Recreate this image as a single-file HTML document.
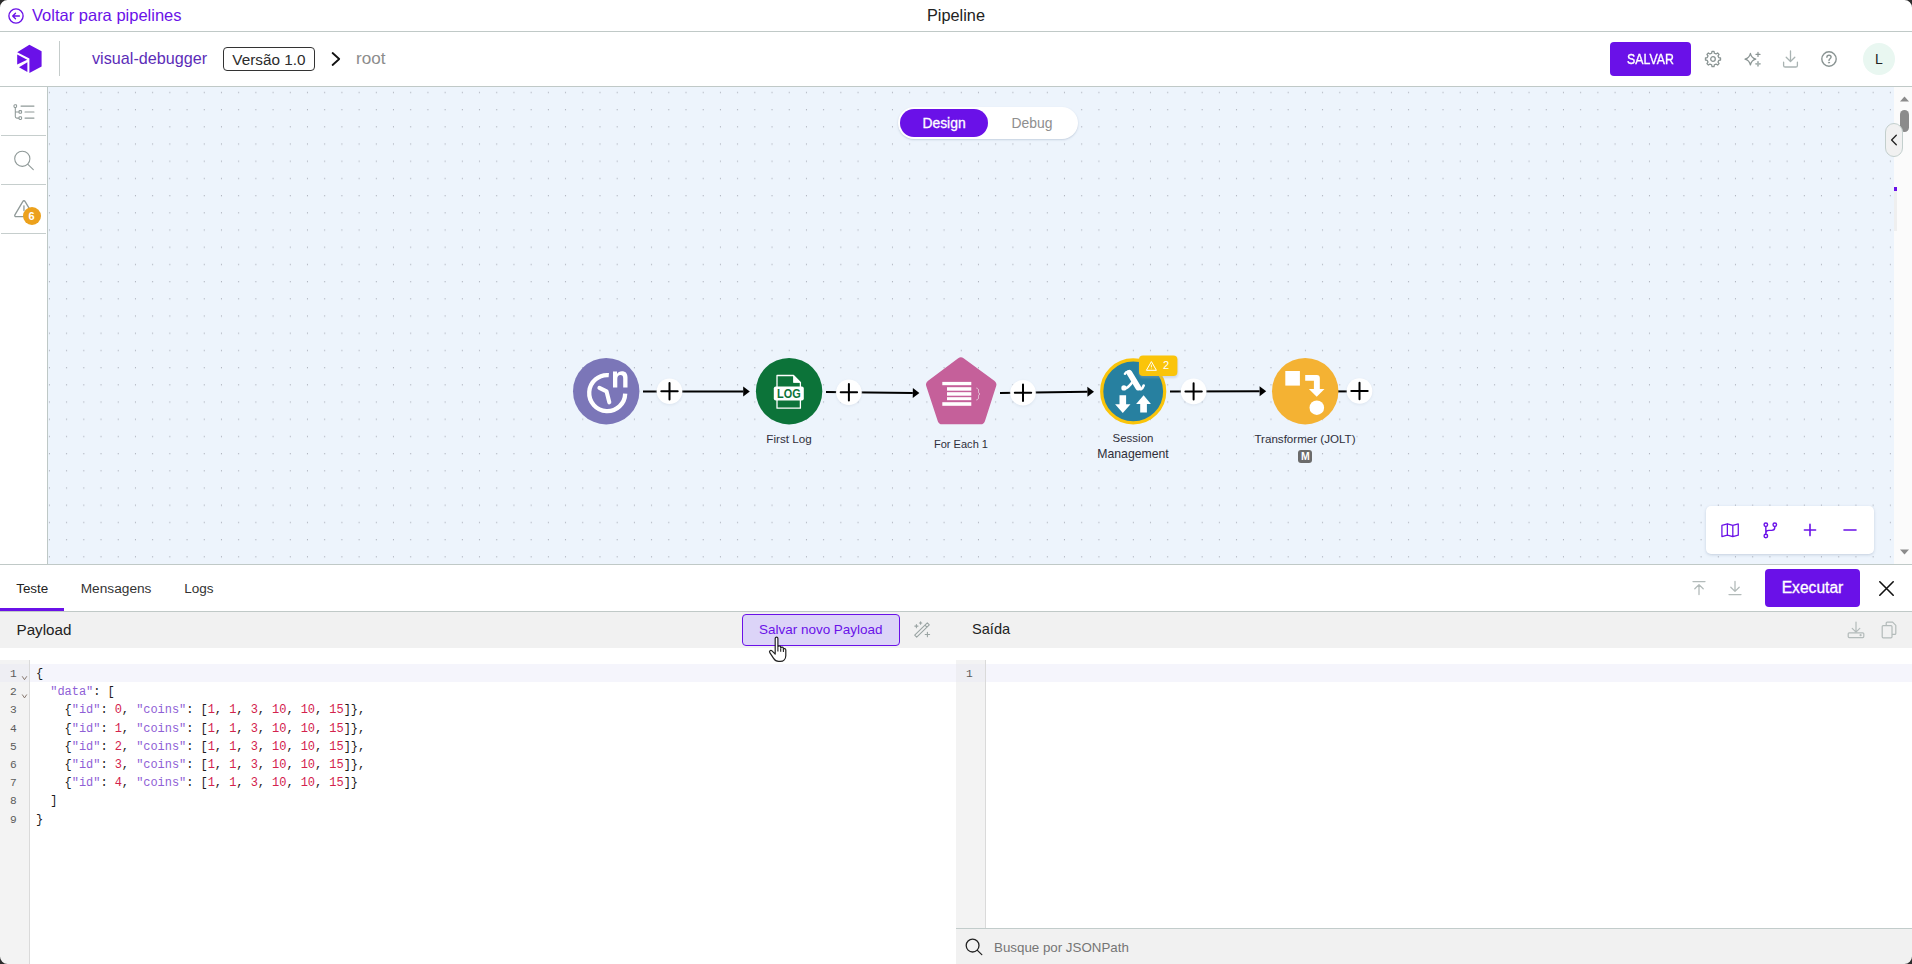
<!DOCTYPE html>
<html lang="pt-BR">
<head>
<meta charset="utf-8">
<title>Pipeline</title>
<style>
*{box-sizing:border-box;margin:0;padding:0}
html,body{width:1912px;height:964px;overflow:hidden;background:#fff}
body{font-family:"Liberation Sans",sans-serif;color:#2b2b2b;position:relative}
.abs{position:absolute}
.t{position:absolute;white-space:nowrap;line-height:1}
svg{position:absolute;overflow:visible}
/* top bar */
#bar1{left:0;top:0;width:1912px;height:32px;background:#fff;border-bottom:1px solid #c0c9c7}
#bar2{left:0;top:32px;width:1912px;height:55px;background:#fff;border-bottom:1px solid #c0c9c7}
/* sidebar */
#side{left:0;top:87px;width:48px;height:477px;background:#fff;border-right:1px solid #bec8c6}
.sdiv{left:1px;width:45px;height:1px;background:#c6cecd}
/* canvas */
#canvas{left:48px;top:87px;width:1846px;height:477px;background-color:#edf4fc;overflow:hidden}
#strip{left:1894px;top:190px;width:3px;height:41px;background:#efefef}
#sb{left:1894px;top:87px;width:18px;height:477px;background:#fbfbfb}
/* bottom */
#tabs{left:0;top:564px;width:1912px;height:48px;background:#fff;border-top:1px solid #c0c9c7;border-bottom:1px solid #c0c9c7}
#phead{left:0;top:612px;width:1912px;height:36px;background:#f1f1f1}
.gut{background:#f3f3f3;border-right:1px solid #dadada}
.code{font-family:"Liberation Mono",monospace;font-size:12px;letter-spacing:-0.05px;line-height:18.2px;white-space:pre;color:#1c1c1c}
.lbl{font-size:12px;color:#2f2f3a;text-align:center}
.k{color:#8f5fd6}.n{color:#d3224d}
.ln{font-family:"Liberation Mono",monospace;font-size:11.200px;line-height:18.2px;color:#5c5c5c;text-align:right}
</style>
</head>
<body>
<!-- TOP BAR 1 -->
<div id="bar1" class="abs"></div>
<div id="bar2" class="abs"></div>
<div class="t" style="left:32px;top:6.500px;font-size:16.500px;color:#6a11e8">Voltar para pipelines</div>
<div class="t" style="left:927px;top:6.800px;font-size:16.300px;color:#222">Pipeline</div>


<!-- back arrow -->
<svg style="left:8px;top:8px" width="16" height="16" viewBox="0 0 16 16" fill="none" stroke="#6a11e8" stroke-width="1.350" stroke-linecap="round" stroke-linejoin="round"><circle cx="8" cy="8" r="7.100"/><path d="M11.4 8H4.8M7.5 5.2L4.7 8l2.8 2.8"/></svg>
<!-- logo -->
<svg style="left:16px;top:44px" width="27" height="30" viewBox="0 0 27 30"><path d="M13.4 0.8 L25.6 7.2 L25.6 22.4 L13.4 29 L13.4 14.6 L1.2 8.2 Z" fill="#6a11e8"/><path d="M1.2 10.6 L11.2 15.8 L1.2 20.6 Z" fill="#6a11e8"/><path d="M11.4 18.2 L11.4 28 L3 23.2 Z" fill="#6a11e8"/></svg>
<!-- chevron -->
<svg style="left:329px;top:50px" width="14" height="18" viewBox="0 0 14 18" fill="none" stroke="#111" stroke-width="1.800" stroke-linecap="round" stroke-linejoin="round"><path d="M3.600 3L10.200 9L3.600 15"/></svg>
<!-- gear -->
<svg style="left:1705px;top:51px" width="16" height="16" viewBox="0 0 16 16" fill="none" stroke="#8a9493" stroke-width="1.3" stroke-linejoin="round"><path d="M6.62 2.26 L6.99 0.47 L9.01 0.47 L9.38 2.26 L11.08 2.97 L12.61 1.96 L14.04 3.39 L13.03 4.92 L13.74 6.62 L15.53 6.99 L15.53 9.01 L13.74 9.38 L13.03 11.08 L14.04 12.61 L12.61 14.04 L11.08 13.03 L9.38 13.74 L9.01 15.53 L6.99 15.53 L6.62 13.74 L4.92 13.03 L3.39 14.04 L1.96 12.61 L2.97 11.08 L2.26 9.38 L0.47 9.01 L0.47 6.99 L2.26 6.62 L2.97 4.92 L1.96 3.39 L3.39 1.96 L4.92 2.97Z"/><circle cx="8" cy="8" r="2.3"/></svg>
<!-- sparkle -->
<svg style="left:1744px;top:51px" width="18" height="16" viewBox="0 0 18 16" fill="none" stroke="#8a9493" stroke-width="1.2" stroke-linejoin="round" stroke-linecap="round"><path d="M6.4 2.4 C7.1 5.6 8.4 7.3 11.8 8.2 C8.4 9.1 7.1 10.8 6.4 14 C5.7 10.8 4.4 9.1 1 8.2 C4.4 7.3 5.7 5.6 6.4 2.4Z"/><path d="M14 1.4v4M12 3.4h4" stroke="#8a9493"/><path d="M14 10.8v4M12 12.8h4" stroke="#aab4b3" stroke-width="1.8"/></svg>
<!-- download -->
<svg style="left:1782px;top:50px" width="17" height="18" viewBox="0 0 17 18" fill="none" stroke="#a9b3b2" stroke-width="1.3" stroke-linecap="round" stroke-linejoin="round"><path d="M8.5 1v10.2M4.2 7.2l4.3 4.3 4.3-4.3"/><path d="M1.6 12.2v3.2c0 .9.7 1.6 1.6 1.6h10.6c.9 0 1.6-.7 1.6-1.6v-3.2"/></svg>
<!-- help -->
<svg style="left:1821px;top:51px" width="16" height="16" viewBox="0 0 16 16" fill="none" stroke="#8a9493" stroke-width="1.4" stroke-linecap="round" stroke-linejoin="round"><circle cx="8" cy="8" r="7.2"/><path d="M5.9 6.2c0-1.2.9-2 2.1-2s2.1.8 2.1 1.9c0 1.6-2.1 1.7-2.1 3.3"/><circle cx="8" cy="11.6" r=".6" fill="#8a9493" stroke-width=".8"/></svg>

<!-- TOP BAR 2 -->
<div class="abs" style="left:59px;top:41px;width:1px;height:35px;background:#c5cccb"></div>
<div class="t" style="left:92px;top:50.100px;font-size:16.200px;color:#5c2db8">visual-debugger</div>
<div class="abs" style="left:223px;top:47px;width:92px;height:24px;border:1px solid #333;border-radius:4px"></div>
<div class="t" style="left:232.300px;top:52.200px;font-size:15.300px;color:#2b2b2b">Versão 1.0</div>
<div class="t" style="left:356px;top:49.900px;font-size:17.100px;color:#8c8c8c">root</div>
<div class="abs" style="left:1610px;top:42px;width:81px;height:34px;background:#6a11e8;border-radius:4px"></div>
<div class="t" id="salvar" style="left:1627.300px;top:51.300px;font-size:15px;-webkit-text-stroke:.35px #fff;color:#fff;transform:scaleX(.822);transform-origin:0 0">SALVAR</div>
<div class="abs" style="left:1863px;top:43px;width:32px;height:32px;border-radius:50%;background:#e9f7f1"></div>
<div class="t" style="left:1875px;top:52px;font-size:14px;color:#222">L</div>

<!-- SIDEBAR -->
<div id="side" class="abs"></div>
<div class="abs sdiv" style="top:135px"></div>
<div class="abs sdiv" style="top:184px"></div>
<div class="abs sdiv" style="top:233px"></div>


<!-- sidebar icons -->
<svg style="left:13px;top:104px" width="22" height="18" viewBox="0 0 22 18" fill="none" stroke="#8f9998" stroke-width="1.050" stroke-linecap="round"><rect x="1" y="0.8" width="2.6" height="2.6" rx=".8"/><rect x="6" y="6.6" width="2.6" height="2.6" rx=".8"/><rect x="6" y="12.8" width="2.6" height="2.6" rx=".8"/><path d="M2.3 3.4v9.2c0 .9.6 1.5 1.5 1.5H6M2.3 7.9H6"/><path d="M8 2.1h13M12 7.9h9M12 14.1h9"/></svg>
<svg style="left:14px;top:150px" width="22" height="22" viewBox="0 0 22 22" fill="none" stroke="#8f9998" stroke-width="1.100" stroke-linecap="round"><circle cx="8.3" cy="8.8" r="7.6"/><path d="M13.9 14.4l5.4 5.2"/></svg>
<svg style="left:13px;top:199px" width="22" height="20" viewBox="0 0 22 20" fill="none" stroke="#8f9998" stroke-width="1.300" stroke-linecap="round" stroke-linejoin="round"><path d="M9.900 2.400L1.900 15.900c-.500.900.100 1.800 1.100 1.800h16c1 0 1.600-.9 1.100-1.800L12 2.400c-.5-.9-1.600-.9-2.100 0z"/><path d="M10.950 6.800v4.800"/></svg>
<div class="abs" style="left:23px;top:207px;width:18px;height:18px;border-radius:50%;background:#eca11c"></div>
<div class="t" style="left:28.500px;top:211px;font-size:11px;font-weight:bold;color:#fff">6</div>

<!-- CANVAS -->
<div id="canvas" class="abs"><svg style="left:0;top:0" width="1846" height="477"><defs><pattern id="dots" x="0" y="0" width="17.205" height="17.2" patternUnits="userSpaceOnUse"><rect x="0.9" y="5" width="1" height="1" fill="#9a9fa9"/></pattern></defs><rect width="1846" height="477" fill="url(#dots)"/></svg></div>
<div id="sb" class="abs"></div>
<div id="strip" class="abs"></div>


<!-- CANVAS CONTENT -->
<svg id="flow" style="left:0;top:0" width="1912" height="964" viewBox="0 0 1912 964">
<defs><filter id="blur1" x="-50%" y="-50%" width="200%" height="200%"><feGaussianBlur stdDeviation="1.2"/></filter>
<filter id="blur2" x="-20%" y="-50%" width="140%" height="200%"><feGaussianBlur stdDeviation="2.500"/></filter></defs>
<!-- connectors -->
<path d="M643 391.4L743.20 391.40" stroke="#000" stroke-width="2"/><path d="M749.8 391.4L743.20 396.40L743.20 386.40Z" fill="#000"/><path d="M826 391.9L912.80 393.02" stroke="#000" stroke-width="2"/><path d="M919.4 393.1L912.74 398.01L912.86 388.02Z" fill="#000"/><path d="M1000 392.9L1087.40 391.78" stroke="#000" stroke-width="2"/><path d="M1094 391.7L1087.46 396.78L1087.34 386.78Z" fill="#000"/><path d="M1170 391.4L1259.60 391.21" stroke="#000" stroke-width="2"/><path d="M1266.2 391.2L1259.61 396.21L1259.59 386.21Z" fill="#000"/>
<path d="M1338 391.400H1350" stroke="#000" stroke-width="2"/>
<circle cx="669.5" cy="392.3" r="13.2" fill="#c9d3e0" opacity=".35" filter="url(#blur1)"/><circle cx="669.5" cy="391.3" r="12.8" fill="#fff"/><path d="M661.3 391.3h16.4M669.5 383.1v16.4" stroke="#000" stroke-width="2" stroke-linecap="round"/><circle cx="848.9" cy="393.2" r="13.2" fill="#c9d3e0" opacity=".35" filter="url(#blur1)"/><circle cx="848.9" cy="392.2" r="12.8" fill="#fff"/><path d="M840.6999999999999 392.2h16.4M848.9 384.0v16.4" stroke="#000" stroke-width="2" stroke-linecap="round"/><circle cx="1023" cy="393.8" r="13.2" fill="#c9d3e0" opacity=".35" filter="url(#blur1)"/><circle cx="1023" cy="392.8" r="12.8" fill="#fff"/><path d="M1014.8 392.8h16.4M1023 384.6v16.4" stroke="#000" stroke-width="2" stroke-linecap="round"/><circle cx="1193.6" cy="392.4" r="13.2" fill="#c9d3e0" opacity=".35" filter="url(#blur1)"/><circle cx="1193.6" cy="391.4" r="12.8" fill="#fff"/><path d="M1185.3999999999999 391.4h16.4M1193.6 383.2v16.4" stroke="#000" stroke-width="2" stroke-linecap="round"/><circle cx="1359.5" cy="392" r="13.2" fill="#c9d3e0" opacity=".35" filter="url(#blur1)"/><circle cx="1359.5" cy="391" r="12.8" fill="#fff"/><path d="M1351.3 391h16.4M1359.5 382.8v16.4" stroke="#000" stroke-width="2" stroke-linecap="round"/>
<!-- node 1: trigger -->
<circle cx="606.200" cy="391.200" r="33.200" fill="#7b76b8"/>
<path d="M608.800 375.200A18 18 0 1 0 625.200 393.600" fill="none" stroke="#fff" stroke-width="4.300"/>
<path d="M599.400 387.900L606.500 391.300L609.300 402.300" fill="none" stroke="#fff" stroke-width="4.100" stroke-linecap="round" stroke-linejoin="round"/>
<path d="M613 387.500V371.600h4v2.300c1-1.800 2.700-2.700 4.900-2.700c3.600 0 5.600 2.100 5.600 6.100V387.500h-4.300V378.300c0-2.100-.9-3.200-2.700-3.200c-2.100 0-3.200 1.500-3.200 4V387.500Z" fill="#fff"/>
<!-- node 2: log -->
<circle cx="789.100" cy="391.200" r="33.200" fill="#0c7339"/>
<path d="M777 375.500H793.500L800.400 382.500V408.200H777Z" fill="none" stroke="#fff" stroke-width="1.300" stroke-linejoin="round"/>
<path d="M793.500 375.500V382.500H800.400Z" fill="#fff" stroke="#fff" stroke-width=".8" stroke-linejoin="round"/>
<rect x="773.800" y="386.600" width="30" height="14" rx="2" fill="#fff"/>
<text x="788.800" y="398.100" font-family="Liberation Sans, sans-serif" font-weight="bold" font-size="12" fill="#0c7339" text-anchor="middle" textLength="23.600" lengthAdjust="spacingAndGlyphs">LOG</text>
<!-- node 3: for each -->
<path d="M958.200 358.300Q960.900 356.300 963.600 358.300L994.300 380.700Q997.200 382.800 996.100 386.200L984.900 421.200Q983.900 424.300 980.600 424.300H942.100Q938.800 424.300 937.800 421.200L926.300 386.200Q925.200 382.800 928.100 380.700Z" fill="#c5609a"/>
<g fill="#fff"><rect x="942.300" y="381.900" width="29" height="3.300"/><rect x="947" y="387.200" width="24.300" height="3.500"/><rect x="947" y="392.200" width="24.300" height="3.500"/><rect x="947" y="397.200" width="24.300" height="3"/><rect x="942.300" y="402.200" width="29" height="3.600"/></g>
<path d="M976.300 388c2 .4 2.400 1.500 2.200 3.300c-.1 1.300.2 2.200 1.500 2.700c-1.300.5-1.600 1.400-1.500 2.700c.2 1.800-.2 2.900-2.200 3.300" fill="none" stroke="#e8dbe4" stroke-width=".8"/>
<!-- node 4: session management -->
<circle cx="1133.200" cy="391.400" r="31.500" fill="#2780a0" stroke="#fac40a" stroke-width="3.200"/>
<g fill="none" stroke="#fff" stroke-linecap="round"><path d="M1124.900 373.800c1.500-2.600 4.300-2.900 5.700-.8" stroke-width="2.400"/><path d="M1129.300 372.800L1138.200 387.500" stroke-width="5.800"/><path d="M1138.400 387.800c1.400 2.400 3.700 2 5.300-2.300" stroke-width="2.600"/><path d="M1133.200 381C1130.200 385.400 1127.600 388.200 1124.600 388.600" stroke-width="2.500"/></g><circle cx="1123.900" cy="387.900" r="2.600" fill="#fff"/>
<path d="M1119.500 395.200h6.600v9.100h4.400l-7.700 8.700l-7.700-8.700h4.400Z" fill="#fff"/>
<path d="M1143.600 395.200l7.300 8.700h-4v8.500h-6.700v-8.500h-4.100Z" fill="#fff"/>
<rect x="1139" y="357" width="39" height="21" rx="4" fill="#9aa7b8" opacity=".35" filter="url(#blur1)"/>
<rect x="1139" y="355.600" width="38.400" height="20.400" rx="4" fill="#fac40a"/>
<path d="M1151.400 361.600L1146.400 370.300H1156.400Z" fill="none" stroke="#fff" stroke-width="1" stroke-linejoin="round"/>
<path d="M1151.400 364.600v2.800M1151.400 368.600v.5" stroke="#fff" stroke-width=".9"/>
<text x="1163" y="369.200" font-family="Liberation Sans, sans-serif" font-size="11" fill="#fff">2</text>
<!-- node 5: transformer -->
<circle cx="1305.200" cy="391.200" r="33.200" fill="#f4b233"/>
<rect x="1285.300" y="371" width="14.600" height="14.600" fill="#fff"/>
<path d="M1305.200 375.100H1316.800Q1319.800 375.100 1319.800 378.100V389.100H1324.500L1316.700 396.800L1308.900 389.100H1313.900V380.700H1305.200Z" fill="#fff"/>
<circle cx="1316.800" cy="407.700" r="7.300" fill="#fff"/>
</svg>
<!-- labels -->
<div class="t lbl" style="left:739px;width:100px;top:433.200px;font-size:11.650px">First Log</div>
<div class="t lbl" style="left:911px;width:100px;top:438.700px;font-size:11.050px">For Each 1</div>
<div class="t lbl" style="left:1083px;width:100px;top:433.200px;font-size:11.500px">Session</div>
<div class="t lbl" style="left:1083px;width:100px;top:447.900px;font-size:12.250px">Management</div>
<div class="t lbl" style="left:1245px;width:120px;top:433.100px;font-size:11.600px">Transformer (JOLT)</div>
<div class="abs" style="left:1298.300px;top:449.500px;width:13.700px;height:13.200px;border-radius:3px;background:#6b6b6b"></div>
<div class="t" style="left:1298.500px;width:13.500px;top:450.800px;font-size:10.500px;font-weight:bold;color:#fff;text-align:center">M</div>
<!-- design/debug toggle -->
<div class="abs" style="left:898px;top:107px;width:180px;height:32px;border-radius:16px;background:#fff;box-shadow:0 1px 2px rgba(120,140,170,.35)"></div>
<div class="abs" style="left:900px;top:109px;width:88px;height:28px;border-radius:14px;background:#6a11e8"></div>
<div class="t" style="left:900px;width:88px;top:117.100px;font-size:13.900px;color:#fff;-webkit-text-stroke:.3px #fff;text-align:center">Design</div>
<div class="t" style="left:988px;width:88px;top:117.100px;font-size:13.900px;color:#8e8e8e;text-align:center">Debug</div>
<!-- canvas toolbar -->
<div class="abs" style="left:1706px;top:506px;width:168px;height:48px;border-radius:5px;background:#fff;box-shadow:0 1px 3px rgba(120,140,170,.35)"></div>
<svg style="left:1720.800px;top:522.700px" width="18.200" height="14.600" viewBox="0 0 20 16" fill="none" stroke="#6a11e8" stroke-width="1.400" stroke-linejoin="round"><path d="M1 2.600L7 1V13.400L1 15ZM7 1L13 2.600V15L7 13.400M13 2.600L19 1V13.400L13 15"/></svg>
<svg style="left:1762.700px;top:521.800px" width="15" height="16.800" viewBox="0 0 16 18" fill="none" stroke="#6a11e8" stroke-width="1.500"><circle cx="3" cy="3" r="1.900"/><circle cx="3" cy="15" r="1.900"/><circle cx="12.600" cy="3" r="1.900"/><path d="M3 4.900V13.100M12.600 4.900V6c0 2-1.300 3-3.300 3H6.300c-2 0-3.300 1-3.300 3"/></svg>
<svg style="left:1803px;top:523px" width="14" height="14" viewBox="0 0 14 14" fill="none" stroke="#6a11e8" stroke-width="1.600" stroke-linecap="round"><path d="M1.400 7H12.600M7 1.400V12.600"/></svg>
<svg style="left:1843px;top:523px" width="14" height="14" viewBox="0 0 14 14" fill="none" stroke="#6a11e8" stroke-width="1.600" stroke-linecap="round"><path d="M1 7H13"/></svg>

<!-- scrollbar bits -->
<svg style="left:1897px;top:87px" width="15" height="477" viewBox="0 0 15 477"><path d="M3 14.500L7.500 9.500L12 14.500Z" fill="#8b8b8b"/><path d="M3 462.500L7.500 467.500L12 462.500Z" fill="#8b8b8b"/><rect x="3" y="23" width="9" height="22" rx="4.500" fill="#8b8b8b"/></svg>
<div class="abs" style="left:1894px;top:187px;width:3px;height:4px;background:#6a11e8"></div>
<div class="abs" style="left:1885px;top:123px;width:18px;height:34px;border-radius:9px;background:#f1f1f1;border:1px solid #c3cfcd"></div>
<svg style="left:1889px;top:133px" width="10" height="14" viewBox="0 0 10 14" fill="none" stroke="#222" stroke-width="1.3" stroke-linecap="round" stroke-linejoin="round"><path d="M7.300 2.200L2.600 7l4.700 4.800"/></svg>

<!-- BOTTOM -->
<div id="tabs" class="abs"></div>
<div id="phead" class="abs"></div>
<div class="abs" style="left:0;top:608px;width:64px;height:3px;background:#6a11e8"></div>
<div class="t" style="left:16.200px;top:582.400px;font-size:13.400px;color:#222">Teste</div>
<div class="t" style="left:80.700px;top:582.300px;font-size:13.700px;color:#333">Mensagens</div>
<div class="t" style="left:184.200px;top:582.400px;font-size:13.500px;color:#333">Logs</div>
<!-- tab right controls -->
<svg style="left:1692px;top:580px" width="14" height="16" viewBox="0 0 14 16" fill="none" stroke="#b3bbba" stroke-width="1.300" stroke-linecap="round" stroke-linejoin="round"><path d="M1 1.600H13M7 14.600V5M2.800 8.800L7 4.600l4.200 4.200"/></svg>
<svg style="left:1728px;top:580px" width="14" height="16" viewBox="0 0 14 16" fill="none" stroke="#b3bbba" stroke-width="1.300" stroke-linecap="round" stroke-linejoin="round"><path d="M1 14.600H13M7 1.400V11M2.800 7.200L7 11.400l4.200-4.200"/></svg>
<div class="abs" style="left:1765px;top:569px;width:95px;height:37.700px;background:#6a11e8;border-radius:4px"></div>
<div class="t" style="left:1765px;width:95px;top:579.800px;font-size:15.600px;color:#fff;-webkit-text-stroke:.3px #fff;text-align:center">Executar</div>
<svg style="left:1878.500px;top:580.500px" width="15" height="15" viewBox="0 0 15 15" fill="none" stroke="#111" stroke-width="1.600" stroke-linecap="round"><path d="M.8.800L14.200 14.200M14.200.800L.8 14.200"/></svg>
<!-- payload header -->
<div class="t" style="left:16.500px;top:621.600px;font-size:15.200px;color:#222">Payload</div>
<div class="abs" style="left:742px;top:614px;width:158px;height:32px;border-radius:4px;background:#dcd4f8;border:1px solid #6a11e8"></div>
<div class="t" style="left:759px;top:623.100px;font-size:13.480px;color:#6a11e8">Salvar novo Payload</div>
<svg style="left:913px;top:621px" width="18" height="18" viewBox="0 0 18 18" fill="none" stroke="#9aa4a3" stroke-width="1.100" stroke-linecap="round" stroke-linejoin="round"><path d="M14.300 1.900l2 2L3.700 16.100l-2-2ZM11.900 4.100l2.100 2.100"/><path d="M3.400 3.500v3.200M1.800 5.100h3.200M7.600 .8v2.400M6.400 2h2.400M14.400 11.300v4.400M12.200 13.500h4.400"/></svg>
<div class="t" style="left:972px;top:622.100px;font-size:14.600px;color:#222">Saída</div>
<svg style="left:1847px;top:621px" width="18" height="18" viewBox="0 0 18 18" fill="none" stroke="#b3bbba" stroke-width="1.200" stroke-linecap="round" stroke-linejoin="round"><path d="M9 1v10M5.200 7.400L9 11.200l3.800-3.800"/><rect x="1.200" y="11.800" width="15.600" height="4.800" rx="1"/><circle cx="13.600" cy="14.200" r=".5"/></svg>
<svg style="left:1881px;top:621px" width="16" height="18" viewBox="0 0 16 18" fill="none" stroke="#b3bbba" stroke-width="1.200" stroke-linejoin="round"><path d="M5.200 4.600V2.200c0-.6.400-1 1-1H11.600L14.800 4.400V12.400c0 .6-.4 1-1 1H11"/><rect x="1.200" y="4.600" width="9.800" height="12.200" rx="1"/></svg>
<!-- left editor -->
<div class="abs gut" style="left:0;top:660px;width:30px;height:304px"></div>
<div class="abs" style="left:0;top:664px;width:29px;height:18px;background:#eeeef3"></div>
<div class="abs" style="left:30px;top:664px;width:926px;height:18px;background:#f5f5fc"></div>
<div class="abs ln" style="left:0;top:665px;width:16.600px">1
2
3
4
5
6
7
8
9</div>
<svg style="left:20px;top:674px" width="8" height="26" viewBox="0 0 8 26" fill="none" stroke="#7a6a60" stroke-width=".9"><path d="M2.200 2.300L4.500 5.700L6.800 2.300M2.200 20.500L4.500 23.900L6.800 20.500"/></svg>
<div class="abs code" style="left:36px;top:665px">{
  <span class="k">"data"</span>: [
    {<span class="k">"id"</span>: <span class="n">0</span>, <span class="k">"coins"</span>: [<span class="n">1</span>, <span class="n">1</span>, <span class="n">3</span>, <span class="n">10</span>, <span class="n">10</span>, <span class="n">15</span>]},
    {<span class="k">"id"</span>: <span class="n">1</span>, <span class="k">"coins"</span>: [<span class="n">1</span>, <span class="n">1</span>, <span class="n">3</span>, <span class="n">10</span>, <span class="n">10</span>, <span class="n">15</span>]},
    {<span class="k">"id"</span>: <span class="n">2</span>, <span class="k">"coins"</span>: [<span class="n">1</span>, <span class="n">1</span>, <span class="n">3</span>, <span class="n">10</span>, <span class="n">10</span>, <span class="n">15</span>]},
    {<span class="k">"id"</span>: <span class="n">3</span>, <span class="k">"coins"</span>: [<span class="n">1</span>, <span class="n">1</span>, <span class="n">3</span>, <span class="n">10</span>, <span class="n">10</span>, <span class="n">15</span>]},
    {<span class="k">"id"</span>: <span class="n">4</span>, <span class="k">"coins"</span>: [<span class="n">1</span>, <span class="n">1</span>, <span class="n">3</span>, <span class="n">10</span>, <span class="n">10</span>, <span class="n">15</span>]}
  ]
}</div>
<!-- right editor -->
<div class="abs gut" style="left:956px;top:660px;width:30px;height:268px"></div>
<div class="abs" style="left:956px;top:664px;width:29px;height:18px;background:#eeeef3"></div>
<div class="abs" style="left:986px;top:664px;width:926px;height:18px;background:#f5f5fc"></div>
<div class="abs ln" style="left:956px;top:665px;width:16.600px">1</div>
<!-- search bar -->
<div class="abs" style="left:956px;top:928px;width:956px;height:36px;background:#f1f1f1;border-top:1px solid #c2cccb"></div>
<svg style="left:965px;top:938px" width="18" height="18" viewBox="0 0 18 18" fill="none" stroke="#222" stroke-width="1.300" stroke-linecap="round"><circle cx="7.600" cy="7.600" r="6.400"/><path d="M12.400 12.400l4.400 4.200"/></svg>
<div class="t" style="left:994px;top:940.500px;font-size:13.330px;color:#757575">Busque por JSONPath</div>
<!-- hand cursor -->
<svg style="left:766.500px;top:636px" width="22" height="28" viewBox="0 0 22 28"><path d="M8.200 2.600c0-1.900 2.700-1.900 2.700 0v8.300c.3-1.500 2.700-1.400 2.800.2v.9c.4-1.300 2.600-1.100 2.700.4v.9c.5-1.100 2.400-.8 2.400.7v5.400c0 3.600-2.300 6-5.600 6h-1.600c-2.400 0-3.800-1.100-5-3l-3.800-5.800c-1-1.600.9-3 2.200-1.700l3.200 3.200Z" fill="#fff" stroke="#222" stroke-width="1.200" stroke-linejoin="round"/><path d="M10.900 11.200v4.400M13.700 12.400v3.400M16.400 13.300v2.700" stroke="#222" stroke-width="1.100" fill="none"/></svg>
<!-- window corners -->
<svg style="left:0;top:0" width="1912" height="964" viewBox="0 0 1912 964"><path d="M0 0H7.500A7.500 7.500 0 0 0 0 7.500Z" fill="#2c2c2c"/><path d="M1912 0V7.500A7.500 7.500 0 0 0 1904.500 0Z" fill="#2c2c2c"/><path d="M0 964V956.500A7.500 7.500 0 0 0 7.500 964Z" fill="#2c2c2c"/><path d="M1912 964H1904.500A7.500 7.500 0 0 0 1912 956.500Z" fill="#2c2c2c"/></svg>

</body>
</html>
